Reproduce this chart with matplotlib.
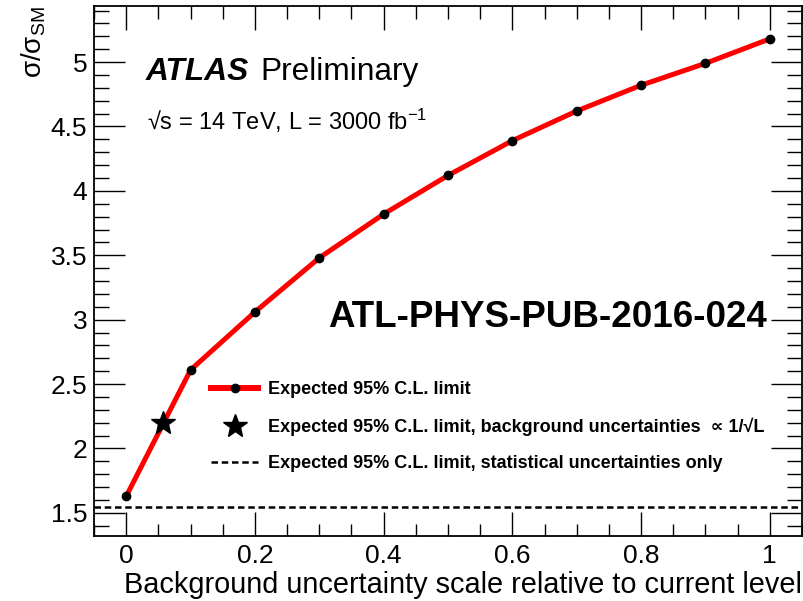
import numpy as np
import matplotlib
matplotlib.use('Agg')
from matplotlib import pyplot as plt
from matplotlib.ticker import MultipleLocator
from matplotlib.lines import Line2D

plt.rcParams['font.family'] = ['Liberation Sans', 'DejaVu Sans']
plt.rcParams['mathtext.default'] = 'regular'

################################################################################
### Expected limits vs background uncertainty scale
################################################################################
bkg_scale = [0.0, 0.1, 0.2, 0.3, 0.4, 0.5, 0.6, 0.7, 0.8, 0.9, 1.0]
limit_exp = [1.63, 2.61, 3.06, 3.48, 3.82, 4.12, 4.39, 4.62, 4.82, 4.99, 5.18]

# background uncertainties scaling as 1/sqrt(L)
star_scale = [0.057]
star_limit = [2.20]

# statistical uncertainties only
stat_only = 1.545

xtick_vals = [0, 0.2, 0.4, 0.6, 0.8, 1.0]
xtick_labels = ['0', '0.2', '0.4', '0.6', '0.8', '1']
ytick_vals = [1.5, 2, 2.5, 3, 3.5, 4, 4.5, 5]
ytick_labels = ['1.5', '2', '2.5', '3', '3.5', '4', '4.5', '5']

fig = plt.figure(figsize=(8.04, 6.01), dpi=100)
ax = fig.add_axes([0.117, 0.108, 0.8805, 0.882])

dash = (0, (2.6, 1.5))
ax.plot(bkg_scale, limit_exp, color='red', lw=3.6, zorder=2)
ax.plot(bkg_scale, limit_exp, 'o', color='black', ms=6, zorder=3)
ax.plot(star_scale, star_limit, '*', color='black', ms=18, zorder=4)
ax.axhline(stat_only, color='black', ls=dash, lw=1.8, zorder=1)

ax.set_xlim(-0.05, 1.05)
ax.set_ylim(1.32, 5.435)

# ROOT style ticks: inside, on all four sides
ax.xaxis.set_minor_locator(MultipleLocator(0.05))
ax.yaxis.set_minor_locator(MultipleLocator(0.1))
ax.set_xticks(xtick_vals)
ax.set_xticklabels(xtick_labels)
ax.set_yticks(ytick_vals)
ax.set_yticklabels(ytick_labels)
ax.tick_params(which='both', direction='in', top=True, right=True, width=1.0, labelsize=19)
ax.tick_params(which='major', axis='x', length=17, pad=6)
ax.tick_params(which='minor', axis='x', length=9)
ax.tick_params(which='major', axis='y', length=22, pad=5)
ax.tick_params(which='minor', axis='y', length=11)
for sp in ax.spines.values():
    sp.set_linewidth(1.3)

ax.set_xlabel('Background uncertainty scale relative to current level', fontsize=20.8, loc='right', labelpad=2)
ax.set_ylabel(r'$\sigma/\sigma_{SM}$', fontsize=20, loc='top', labelpad=2)

# labels
fig.text(146 / 804, 1 - 80 / 601, 'ATLAS', fontsize=22.8, fontweight='bold', fontstyle='italic')
fig.text(260 / 804, 1 - 80 / 601, 'Preliminary', fontsize=22.8)
fig.text(147 / 804, 1 - 130 / 601, '√s = 14 TeV, L = 3000 fb$^{-1}$', fontsize=17)
fig.text(767 / 804, 1 - 327 / 601, 'ATL-PHYS-PUB-2016-024', fontsize=26.5, fontweight='bold', ha='right')

# legend
h_exp = Line2D([], [], color='red', lw=4.3, marker='o', mfc='black', mec='black', ms=6, markevery=[1])
h_star = Line2D([], [], color='black', ls='none', marker='*', ms=18)
h_stat = Line2D([], [], color='black', ls=dash, lw=1.8)
leg = ax.legend([h_exp, h_star, h_stat],
                ['Expected 95% C.L. limit',
                 'Expected 95% C.L. limit, background uncertainties  ∝ 1/√L',
                 'Expected 95% C.L. limit, statistical uncertainties only'],
                loc='upper left', bbox_to_anchor=((211 - 94) / 708, (536 - 381) / 530),
                frameon=False, prop={'size': 13, 'weight': 'bold'},
                handlelength=2.6, handletextpad=0.55, labelspacing=1.08, borderpad=0, borderaxespad=0)

fig.savefig('out.png', dpi=100)
